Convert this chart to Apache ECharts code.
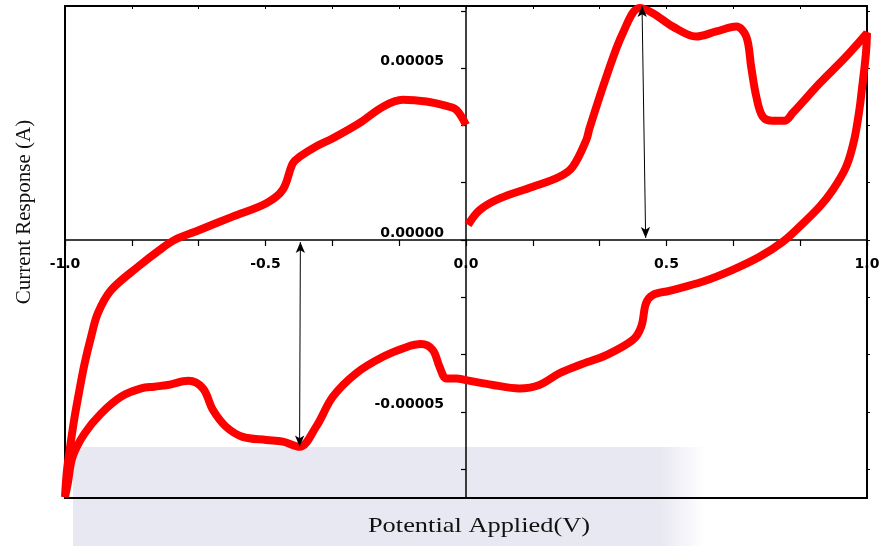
<!DOCTYPE html>
<html>
<head>
<meta charset="utf-8">
<script src="https://cdn.jsdelivr.net/npm/echarts@6/dist/echarts.min.js"></script>
<style>
html,body{margin:0;padding:0;background:#fff;}
#chart{width:881px;height:546px;}
</style>
</head>
<body>
<div id="chart"></div>
<script>
// Potential (V) and current (units of 1e-5 A), traced along the voltammogram loop
var potentialV = [
  0.005, 0.034, 0.084, 0.167, 0.233, 0.266, 0.300, 0.308, 0.350, 0.391, 0.433, 0.466, 0.516, 0.574, 0.624, 0.674, 0.699, 0.711, 0.724, 0.740, 0.765, 0.794, 0.815, 0.882, 0.948, 1.000,
  0.998, 0.994, 0.988, 0.981, 0.968, 0.948, 0.915, 0.882, 0.832, 0.790, 0.732, 0.665, 0.591, 0.507, 0.466, 0.449, 0.437, 0.416, 0.350, 0.283, 0.233, 0.183, 0.133, 0.067, 0.000,
  -0.024, -0.049, -0.066, -0.083, -0.112, -0.149, -0.207, -0.274, -0.332, -0.374, -0.415, -0.457, -0.498, -0.557, -0.598, -0.631, -0.656, -0.692, -0.744, -0.777, -0.810, -0.860, -0.910, -0.951, -0.981, -0.993, -1.000,
  -0.995, -0.986, -0.976, -0.964, -0.951, -0.935, -0.918, -0.885, -0.818, -0.764, -0.727, -0.665, -0.582, -0.498, -0.457, -0.432, -0.415, -0.374, -0.332, -0.266, -0.207, -0.158, -0.099, -0.049, -0.024, 0.000
];
var current_1e5A = [
  0.44, 0.87, 1.21, 1.55, 1.84, 2.13, 2.91, 3.25, 4.75, 6.02, 6.75, 6.60, 6.21, 5.92, 6.07, 6.21, 5.92, 5.05, 4.17, 3.59, 3.47, 3.47, 3.70, 4.56, 5.34, 6.02,
  5.53, 5.05, 4.46, 3.79, 2.91, 2.13, 1.46, 0.97, 0.39, -0.05, -0.49, -0.87, -1.21, -1.48, -1.60, -1.84, -2.52, -2.91, -3.35, -3.64, -3.88, -4.22, -4.32, -4.22, -4.08,
  -4.03, -4.03, -3.69, -3.20, -3.03, -3.12, -3.40, -3.88, -4.56, -5.44, -6.02, -5.87, -5.82, -5.73, -5.44, -4.95, -4.32, -4.10, -4.22, -4.27, -4.32, -4.56, -5.05, -5.63, -6.31, -7.08, -7.48,
  -6.70, -5.92, -5.15, -4.37, -3.59, -2.82, -2.13, -1.46, -0.78, -0.29, 0.00, 0.29, 0.68, 1.07, 1.46, 2.23, 2.42, 2.72, 2.96, 3.40, 3.88, 4.08, 4.03, 3.90, 3.79, 3.35
];
// Peak-to-peak markers (double arrows): [potential, current_1e5A]
var arrowCathodic = [[-0.413, -0.06], [-0.415, -6.01]];
var arrowAnodic = [[0.439, 6.81], [0.448, 0.06]];

var xTickValues = [-1, -0.8333, -0.6667, -0.5, -0.3333, -0.1667, 0, 0.1667, 0.3333, 0.5, 0.6667, 0.8333, 1];
var xLabelValues = [-1, -0.5, 0, 0.5, 1];
var yTickValues = [-6.6667, -5, -3.3333, -1.6667, 0, 1.6667, 3.3333, 5, 6.6667];
var yLabelValues = [-5, 0, 5];
var xRange = [-1, 1];
var yRange = [-7.51, 6.81];

var data = potentialV.map(function (v, i) { return [v, current_1e5A[i]]; });

var G = {left: 65, right: 14, top: 6, bottom: 48, W: 881, H: 546};
var plotW = G.W - G.left - G.right, plotH = G.H - G.top - G.bottom;
// place the crossing axes at the zero of the other axis
var yAxisOffset = -plotW * (0 - xRange[0]) / (xRange[1] - xRange[0]);
var xAxisOffset = -plotH * (0 - yRange[0]) / (yRange[1] - yRange[0]);

var chart = echarts.init(document.getElementById('chart'), null, {renderer: 'canvas'});
var labelFont = {fontFamily: 'DejaVu Sans', fontWeight: 'bold', fontSize: 14, color: '#000'};

chart.setOption({
  animation: false,
  backgroundColor: '#ffffff',
  grid: {left: G.left, right: G.right, top: G.top, bottom: G.bottom, containLabel: false, outerBoundsMode: 'none',
    show: true, borderColor: '#000', borderWidth: 2, backgroundColor: 'transparent'},
  xAxis: [{
    type: 'value', position: 'bottom', offset: xAxisOffset, min: xRange[0], max: xRange[1],
    axisLine: {onZero: false, lineStyle: {color: '#000', width: 1.5}},
    axisTick: {show: true, length: 6, customValues: xTickValues, lineStyle: {color: '#000', width: 1.2}},
    axisLabel: Object.assign({margin: 17, customValues: xLabelValues, formatter: function (v) { return v.toFixed(1); }}, labelFont),
    splitLine: {show: false}
  }, {
    type: 'value', position: 'top', min: xRange[0], max: xRange[1],
    axisLine: {show: false, onZero: false},
    axisTick: {show: true, inside: true, length: 3, customValues: xTickValues, lineStyle: {color: '#000', width: 1}},
    axisLabel: {show: false}, splitLine: {show: false}
  }],
  yAxis: [{
    type: 'value', position: 'left', offset: yAxisOffset, min: yRange[0], max: yRange[1],
    axisLine: {show: true, onZero: false, lineStyle: {color: '#000', width: 1.5}},
    axisTick: {show: true, length: 5, customValues: yTickValues, lineStyle: {color: '#000', width: 1.2}},
    axisLabel: Object.assign({margin: 22, verticalAlign: 'bottom', lineHeight: 14, customValues: yLabelValues, formatter: function (v) { return (v * 1e-5).toFixed(5); }}, labelFont),
    splitLine: {show: false}
  }, {
    type: 'value', position: 'right', min: yRange[0], max: yRange[1],
    axisLine: {show: false, onZero: false},
    axisTick: {show: true, length: 3, customValues: yTickValues, lineStyle: {color: '#000', width: 1}},
    axisLabel: {show: false}, splitLine: {show: false}
  }],
  graphic: [
    {type: 'rect', z: -10, shape: {x: 73, y: 447, width: 632, height: 99},
      style: {fill: new echarts.graphic.LinearGradient(0, 0, 1, 0, [
        {offset: 0, color: 'rgba(228,228,240,0.85)'},
        {offset: 0.93, color: 'rgba(228,228,240,0.85)'},
        {offset: 1, color: 'rgba(228,228,240,0)'}
      ])}},
    {type: 'text', x: 24, y: 212, rotation: Math.PI / 2,
      style: {text: 'Current Response (A)', fontFamily: 'Liberation Serif', fontSize: 21, fill: '#111', align: 'center', verticalAlign: 'middle'}},
    {type: 'text', x: 479, y: 526, scaleX: 1.2,
      style: {text: 'Potential Applied(V)', fontFamily: 'Liberation Serif', fontSize: 22, fill: '#111', align: 'center', verticalAlign: 'middle'}}
  ],
  series: [{
    type: 'line', data: data, smooth: 0.35, showSymbol: false, symbol: 'none',
    lineStyle: {color: '#ff0000', width: 8},
    z: 3,
    markLine: {
      silent: true, symbol: ['arrow', 'arrow'], symbolSize: [7, 11],
      label: {show: false},
      lineStyle: {color: '#000', width: 1, type: 'solid'},
      emphasis: {disabled: true},
      data: [
        [{coord: arrowCathodic[0]}, {coord: arrowCathodic[1]}],
        [{coord: arrowAnodic[0]}, {coord: arrowAnodic[1]}]
      ]
    }
  }]
});
</script>
</body>
</html>
